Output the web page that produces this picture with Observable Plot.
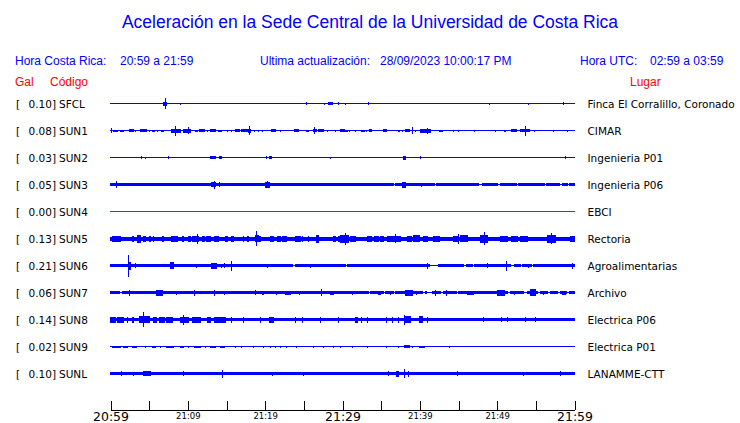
<!DOCTYPE html>
<html><head><meta charset="utf-8">
<script src="https://cdn.jsdelivr.net/npm/d3@7"></script>
<script src="https://cdn.jsdelivr.net/npm/@observablehq/plot@0.6"></script>
<style>
html,body{margin:0;padding:0;background:#fff;}
body{width:740px;height:423px;overflow:hidden;position:relative;font-family:"Liberation Sans",Arial,sans-serif;}
.t{position:absolute;white-space:pre;font-size:12px;color:#0000ff;z-index:2;}
.r{color:#ff0000;}
#chart{position:absolute;left:0;top:0;z-index:1;}
</style></head><body>
<div class="t" style="left:0;width:740px;text-align:center;top:12px;font-size:17.5px;">Aceleración en la Sede Central de la Universidad de Costa Rica</div>
<div class="t" style="left:15px;top:54px;">Hora Costa Rica:</div>
<div class="t" style="left:120px;top:54px;">20:59 a 21:59</div>
<div class="t" style="left:260px;top:54px;">Ultima actualización:</div>
<div class="t" style="left:380px;top:54px;">28/09/2023 10:00:17 PM</div>
<div class="t" style="left:580px;top:54px;">Hora UTC:</div>
<div class="t" style="left:650px;top:54px;">02:59 a 03:59</div>
<div class="t r" style="left:15px;top:75px;">Gal</div>
<div class="t r" style="left:50px;top:75px;">Código</div>
<div class="t r" style="left:630px;top:75px;">Lugar</div>
<div id="chart"></div>
<script>
// ---- data ----
const codes = ["SFCL","SUN1","SUN2","SUN3","SUN4","SUN5","SUN6","SUN7","SUN8","SUN9","SUNL"];
const gal = ["0.10","0.08","0.03","0.05","0.00","0.13","0.21","0.06","0.14","0.02","0.10"];
const places = ["Finca El Corralillo, Coronado","CIMAR","Ingenieria P01","Ingenieria P06","EBCI","Rectoria","Agroalimentarias","Archivo","Electrica P06","Electrica P01","LANAMME-CTT"];
// background amplitude of each trace
const baseAmp = [0.5,0.5,0.5,1.5,0.5,2,1.5,1.5,1.75,0.5,1.75];
// events: [start minute, end minute, amplitude] (minutes after 20:59)
const eventsSFCL = [[6.9,7.2,2],[7.11,7.11,5.5],[9.05,9.05,1],[25.4,25.4,1.5],[27.7,27.7,1],[28.2,28.7,1.5],[29.5,29.5,1.5],[30.4,30.4,1],[33.3,33.3,1.5],[49.0,49.0,1],[54.0,54.0,1],[58.6,58.6,1.5]];
const eventsSUN1 = [[0.13,0.13,2.5],[0.43,0.86,1],[1.3,1.7,1],[2.4,3.0,1.5],[3.2,3.2,1],[3.9,4.7,1.5],[5.1,5.1,1],[5.4,5.7,1],[6.1,6.1,1],[6.6,6.8,1],[7.9,9.05,2],[8.45,8.45,5],[9.4,10.3,2],[10.1,10.1,3.5],[11.0,11.2,1],[11.5,12.2,1.5],[12.6,12.6,1],[12.9,13.6,1.5],[14.0,14.3,1],[15.1,15.1,1],[15.7,15.7,1],[16.1,16.7,1.5],[17.0,17.7,1.5],[17.8,18.1,2],[18.0,18.0,4.5],[18.6,18.6,1],[19.1,19.1,1],[19.7,19.7,1],[20.8,21.4,1.5],[22.0,22.0,1],[23.8,24.3,1.5],[25.3,25.6,1],[26.2,26.7,1.5],[26.4,26.4,3.5],[26.9,27.5,1.5],[28.0,28.0,1],[29.1,29.1,1],[29.7,30.2,1.5],[30.4,30.6,1],[30.9,30.9,1],[31.7,31.7,1],[32.5,32.8,1],[33.1,33.1,1],[33.5,33.8,1.5],[35.3,35.7,1.5],[37.2,37.4,1],[37.7,37.7,1],[38.1,38.6,1.5],[39.1,39.1,3.5],[39.4,39.4,1],[40.1,41.4,2],[41.0,41.0,3],[42.5,42.9,1],[44.4,44.4,1],[45.0,45.0,1],[47.1,47.1,1],[49.8,49.8,1],[50.9,51.1,1],[51.9,52.5,1.5],[53.0,54.2,1.5],[53.7,53.7,5],[54.8,54.8,1],[57.3,57.3,1],[59.1,59.1,1]];
const eventsSUN2 = [[4.0,4.0,1.5],[4.5,4.5,1],[7.5,7.5,1.5],[12.9,13.6,1.5],[14.1,14.4,1.5],[20.2,20.2,1.5],[20.5,20.8,1.5],[28.4,28.4,1],[37.9,38.2,2],[40.1,40.1,1.5],[58.9,58.9,1.5]];
const eventsSUN3 = [[0.8,0.8,3.5],[13.1,13.6,2.5],[13.4,13.4,4],[14.1,14.1,2.5],[20.1,20.5,3],[20.3,20.3,3.5],[37.8,38.2,3],[40.2,40.2,2]];
const eventsSUN4 = [];
const eventsSUN5 = [[0.2,0.5,3],[0.65,1.3,3],[2.8,3.0,3],[3.5,3.9,4],[4.3,4.5,3],[5.0,5.2,3],[5.6,5.6,3],[6.7,6.9,3],[7.9,8.1,3],[8.3,8.6,3],[9.3,9.5,3],[10.1,10.3,3],[10.6,11.4,3],[11.2,11.2,5],[11.9,12.2,3],[12.4,12.9,3],[13.4,14.0,3],[14.9,15.1,3],[15.7,15.9,3],[17.2,17.2,3],[17.7,17.9,3],[18.7,19.1,3.5],[18.9,18.9,7.5],[19.2,19.4,3],[20.7,21.1,3],[21.6,22.0,3],[22.3,22.8,3],[23.9,24.6,3],[24.8,24.8,3],[25.6,25.6,3],[26.7,26.9,4],[28.9,29.1,3],[29.5,29.7,3],[29.8,30.8,4],[30.4,30.4,6],[31.0,31.7,3],[33.2,33.8,3],[34.1,34.7,3],[34.9,35.3,3],[35.8,36.2,3],[36.4,37.5,3],[36.9,36.9,4.5],[38.4,38.9,3],[39.2,39.9,3.5],[40.5,41.0,3],[41.8,42.5,3],[44.4,44.9,3],[45.0,45.0,5],[45.2,46.1,3.5],[47.9,48.7,4],[48.4,48.4,6.5],[50.4,51.3,3],[51.9,52.6,3],[53.0,53.9,3],[56.5,57.6,4],[57.0,57.0,5.5],[59.5,60,3]];
const eventsSUN6 = [[2.3,2.6,4],[2.37,2.37,11],[3.2,3.2,2.5],[7.8,8.1,3.5],[11.1,11.1,2],[13.1,13.7,3],[14.4,14.4,2],[14.8,14.8,2.5],[15.7,15.7,5],[20.3,20.3,2],[25.9,25.9,2],[41.0,41.0,3],[48.7,48.7,2.5],[51.2,51.2,5],[54.1,54.1,2],[59.7,59.7,3]];
const eventsSUN7 = [[2.4,2.4,3],[6.0,6.7,3],[8.5,8.5,2],[10.9,10.9,3],[13.5,13.5,3],[14.7,14.7,2],[18.7,18.7,2.5],[19.6,19.8,2],[21.5,21.5,2],[22.6,23.3,2],[24.5,24.5,2],[27.3,27.3,3.5],[28.4,28.9,2],[31.3,31.3,2],[34.7,34.9,2],[36.2,36.2,2],[38.1,39.0,3],[39.6,39.6,2],[42.0,42.0,3],[43.4,43.4,3],[46.1,47.0,2],[50.0,50.9,3],[52.2,52.2,2],[54.3,55.0,3.5],[56.0,56.0,2],[58.4,58.8,2]];
const eventsSUN8 = [[0,0.6,3],[0.9,1.1,3],[1.3,1.7,3],[2.2,2.2,3],[2.8,3.0,3],[3.7,5.0,3.5],[4.3,4.3,7.5],[5.6,6.0,3],[6.4,7.0,3],[7.2,8.0,3],[9.1,10.1,3],[9.5,9.5,5],[10.6,11.6,3],[12.5,12.9,3],[13.4,14.9,3],[15.7,15.7,3],[17.2,17.2,3],[19.4,19.4,3],[20.5,21.1,3],[23.9,23.9,3],[24.8,24.8,3],[27.2,27.2,3],[29.5,29.5,3],[31.7,31.9,3],[32.5,32.5,3],[33.2,33.2,3],[35.7,35.7,3],[36.5,36.5,3],[37.3,37.3,3],[38.0,38.8,3.5],[38.0,38.0,5],[39.9,40.3,3.5],[41.0,41.0,3],[48.2,48.2,2.5],[50.6,50.6,2.5],[51.3,51.3,2.5],[53.7,53.7,2.5],[55.0,55.0,2.5]];
const eventsSUN9 = [[0.2,1.3,1],[1.7,2.2,1],[2.8,3.4,1],[4.5,4.5,1],[5.4,5.8,1],[6.5,6.5,1],[7.2,8.2,1],[9.1,9.5,1],[10.1,10.1,1],[10.8,11.6,1],[12.3,12.3,1],[12.9,13.6,1],[14.2,14.7,1],[16.2,16.2,1],[17.0,17.0,1],[18.5,18.5,1],[19.8,19.8,1],[20.7,20.7,1],[21.3,21.3,1],[22.0,22.0,1],[22.8,22.8,1],[24.1,24.1,1],[26.3,26.3,1],[27.6,27.6,1],[28.9,28.9,1],[29.7,29.7,1],[31.3,31.3,1],[33.2,33.2,1],[35.7,35.7,1],[37.3,37.3,1],[38.0,38.6,1.5],[39.1,39.1,1],[40.0,40.6,1],[43.8,43.8,1]];
const eventsSUNL = [[1.4,1.4,2.5],[3.0,3.0,2],[4.3,5.2,2.5],[9.4,9.4,2.5],[14.5,14.5,4],[21.0,21.0,2],[25.0,25.0,2],[36.0,36.0,2.5],[37.0,37.3,3],[38.0,38.0,4.5],[38.5,38.5,3],[44.9,44.9,2.5],[53.4,53.4,2],[58.2,58.2,2.5]];
// quiet stretches where a thick trace drops to a thin line: [start, end]
const gapsSUN3 = [[32.4,32.6],[34.1,34.3],[36.6,36.8],[41.9,42.2],[46.0,46.2],[47.6,48.1],[50.0,50.4],[52.5,52.8],[56.1,56.4],[58.0,58.4],[59.05,59.3]];
const gapsSUN6 = [[17.7,17.8],[18.3,18.4],[19.4,19.5],[21.1,21.2],[22.2,22.3],[23.5,23.9],[24.8,24.9],[26.7,26.8],[28.4,28.5],[29.7,29.8],[30.4,30.6],[32.1,32.2],[33.6,33.7],[35.3,35.4],[36.2,36.3],[37.5,37.6],[41.2,42.4],[45.7,46.0],[46.8,47.1],[49.4,49.5],[51.7,52.3],[53.0,53.3],[54.5,54.7],[55.8,55.9],[57.3,57.4]];
const gapsSUN7 = [[1.1,1.5],[31.0,31.2],[33.4,33.6],[34.1,34.3],[35.3,35.6],[36.6,36.8],[40.3,40.7],[40.9,41.6],[42.7,43.1],[44.8,45.0],[45.9,46.0],[47.1,47.2],[48.9,49.0],[51.3,51.7],[53.4,53.9],[55.2,55.6],[56.5,56.9],[57.8,58.2],[59.0,59.4]];
// time axis
const tickMinutes = [0,5,10,15,20,25,30,35,40,45,50,55,60];
const majorTickMinutes = [0,30,60];
const majorTickLabels = ["20:59","21:29","21:59"];
const minorTickMinutes = [10,20,40,50];
const minorTickLabels = ["21:09","21:19","21:39","21:49"];

// ---- build ----
const ROW = 27;          // vertical units between traces
const AXIS_Y = 306;      // axis line position (same units)
const eventLists = [eventsSFCL,eventsSUN1,eventsSUN2,eventsSUN3,eventsSUN4,eventsSUN5,eventsSUN6,eventsSUN7,eventsSUN8,eventsSUN9,eventsSUNL];
const gapLists = {SUN3: gapsSUN3, SUN6: gapsSUN6, SUN7: gapsSUN7};
const rows = codes.map((c, i) => ({code: c, i, gal: gal[i], place: places[i]}));
const segs = [];
rows.forEach(r => {
  const gaps = gapLists[r.code] || [];
  let start = 0;
  for (const [g0, g1] of gaps) {
    segs.push({code: r.code, i: r.i, x1: start, x2: g0, a: baseAmp[r.i]});
    segs.push({code: r.code, i: r.i, x1: g0, x2: g1, a: 0.5});
    start = g1;
  }
  segs.push({code: r.code, i: r.i, x1: start, x2: 60, a: baseAmp[r.i]});
  eventLists[r.i].forEach(([s, e, a]) => segs.push({code: r.code, i: r.i, x1: s, x2: e, a}));
});
const traceColor = d => d.code === "SUN4" ? "#ff0000" : "#0000ff";
const labelFont = {fontSize: 10.5, fill: "black", frameAnchor: "left", textAnchor: "start", dy: 0.6};

const chart = Plot.plot({
  width: 740, height: 423,
  marginLeft: 110.5, marginRight: 165.5, marginTop: 103.5, marginBottom: 13.5,
  style: {fontFamily: "DejaVu Sans", background: "white", overflow: "visible"},
  x: {domain: [0, 60], axis: null},
  y: {domain: [0, AXIS_Y], reverse: true, axis: null},
  marks: [
    Plot.rect(segs, {x1: "x1", x2: "x2", y1: d => d.i * ROW - d.a, y2: d => d.i * ROW + d.a,
      fill: traceColor, insetLeft: -0.5, insetRight: -0.5, shapeRendering: "crispEdges"}),
    Plot.text(rows, {...labelFont, y: d => d.i * ROW, text: () => "[", dx: -95}),
    Plot.text(rows, {...labelFont, y: d => d.i * ROW, text: d => d.gal + "]", dx: -82.5}),
    Plot.text(rows, {...labelFont, y: d => d.i * ROW, text: "code", dx: -52}),
    Plot.text(rows, {...labelFont, frameAnchor: "right", y: d => d.i * ROW, text: "place", dx: 12.5}),
    Plot.ruleY([AXIS_Y], {x1: 0, x2: 60, stroke: "black", shapeRendering: "crispEdges"}),
    Plot.ruleX(tickMinutes, {x: d => d, y1: AXIS_Y, y2: AXIS_Y - 9, stroke: "black", shapeRendering: "crispEdges"}),
    Plot.text(majorTickMinutes, {x: d => d, y: AXIS_Y, text: (d, i) => majorTickLabels[i], lineAnchor: "top", dy: 2, fontSize: 12.5, fill: "black"}),
    Plot.text(minorTickMinutes, {x: d => d, y: AXIS_Y, text: (d, i) => minorTickLabels[i], lineAnchor: "top", dy: 3, fontSize: 8.5, fill: "black"})
  ]
});
document.getElementById("chart").appendChild(chart);
</script>
</body></html>
